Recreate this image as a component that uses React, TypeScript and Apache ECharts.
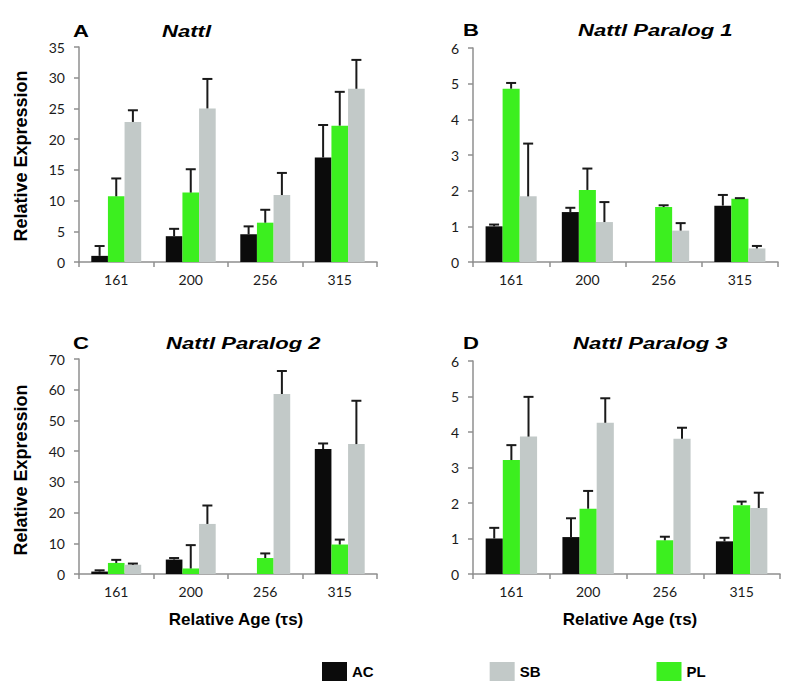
import React, { useEffect, useRef } from 'react';
import * as echarts from 'echarts';

const categories = ['161', '200', '256', '315'];
const legendOrder = ['AC', 'SB', 'PL'];
const seriesOrder = ['AC', 'PL', 'SB'];
const colors: Record<string, string> = { AC: '#0b0b0b', PL: '#3cef1f', SB: '#c2c9c8' };

// Panel A: Nattl
const nattlAC = [1.0, 4.2, 4.5, 17.0];
const nattlACErr = [2.6, 5.4, 5.8, 22.3];
const nattlPL = [10.7, 11.3, 6.4, 22.2];
const nattlPLErr = [13.6, 15.1, 8.5, 27.7];
const nattlSB = [22.8, 25.0, 10.9, 28.2];
const nattlSBErr = [24.7, 29.8, 14.5, 32.9];

// Panel B: Nattl Paralog 1
const p1AC = [1.0, 1.4, null, 1.58];
const p1ACErr = [1.05, 1.52, null, 1.88];
const p1PL = [4.86, 2.02, 1.54, 1.77];
const p1PLErr = [5.02, 2.62, 1.59, 1.79];
const p1SB = [1.84, 1.12, 0.88, 0.38];
const p1SBErr = [3.32, 1.68, 1.09, 0.45];

// Panel C: Nattl Paralog 2
const p2AC = [0.8, 4.7, null, 40.7];
const p2ACErr = [1.2, 5.2, null, 42.5];
const p2PL = [3.6, 1.8, 5.2, 9.6];
const p2PLErr = [4.6, 9.4, 6.7, 11.2];
const p2SB = [3.0, 16.3, 58.6, 42.3];
const p2SBErr = [3.4, 22.3, 66.1, 56.4];

// Panel D: Nattl Paralog 3
const p3AC = [1.0, 1.04, null, 0.92];
const p3ACErr = [1.3, 1.57, null, 1.02];
const p3PL = [3.21, 1.84, 0.95, 1.94];
const p3PLErr = [3.63, 2.34, 1.05, 2.04];
const p3SB = [3.87, 4.26, 3.81, 1.86];
const p3SBErr = [4.99, 4.95, 4.12, 2.29];

const panelLetters = ['A', 'B', 'C', 'D'];
const panelTitles = ['Nattl', 'Nattl Paralog 1', 'Nattl Paralog 2', 'Nattl Paralog 3'];
const yMax = [35, 6, 70, 6];
const yInterval = [5, 1, 10, 1];
const yAxisTitle = 'Relative Expression';
const xAxisTitle = 'Relative Age (τs)';

const panelValues = [
  [nattlAC, nattlPL, nattlSB],
  [p1AC, p1PL, p1SB],
  [p2AC, p2PL, p2SB],
  [p3AC, p3PL, p3SB],
];
const panelErrs = [
  [nattlACErr, nattlPLErr, nattlSBErr],
  [p1ACErr, p1PLErr, p1SBErr],
  [p2ACErr, p2PLErr, p2SBErr],
  [p3ACErr, p3PLErr, p3SBErr],
];

const GAP = 0.33;

export default function App() {
  const ref = useRef<HTMLDivElement>(null);
  useEffect(() => {
    if (!ref.current) return;
    const chart = echarts.init(ref.current, undefined, { renderer: 'svg' });

    const grids = [
      { left: 79, top: 47, width: 298, height: 215 },
      { left: 473, top: 48, width: 305, height: 214 },
      { left: 79, top: 359, width: 298, height: 215 },
      { left: 473, top: 361, width: 307, height: 213 },
    ];
    const axisColor = '#8f8f8f';
    const tickFont = { fontFamily: 'Lato', fontSize: 14, color: '#1a1a1a' };

    const xAxis = grids.map((_, i) => ({
      type: 'category',
      gridIndex: i,
      data: categories,
      axisLine: { lineStyle: { color: axisColor, width: 1.5 } },
      axisTick: { show: true, length: 5, lineStyle: { color: axisColor, width: 1.5 } },
      axisLabel: { ...tickFont, margin: 10 },
    }));
    const yAxis = grids.map((_, i) => ({
      type: 'value',
      gridIndex: i,
      min: 0,
      max: yMax[i],
      interval: yInterval[i],
      axisLine: { show: true, lineStyle: { color: axisColor, width: 1.5 } },
      axisTick: { show: true, length: 5, lineStyle: { color: axisColor, width: 1.5 } },
      splitLine: { show: false },
      axisLabel: { ...tickFont, margin: 14 },
    }));

    const series: any[] = [];
    for (let p = 0; p < 4; p++) {
      seriesOrder.forEach((name, k) => {
        series.push({
          type: 'bar',
          name,
          xAxisIndex: p,
          yAxisIndex: p,
          data: panelValues[p][k],
          barCategoryGap: GAP * 100 + '%',
          barGap: '0%',
          itemStyle: { color: colors[name] },
          z: 2,
        });
      });
      seriesOrder.forEach((name, k) => {
        const data: any[] = [];
        panelValues[p][k].forEach((v, ci) => {
          const e = panelErrs[p][k][ci];
          if (v != null && e != null) data.push([ci, v, e]);
        });
        series.push({
          type: 'custom',
          name: 'err-' + name + '-' + p,
          xAxisIndex: p,
          yAxisIndex: p,
          z: 5,
          encode: { x: 0, y: [1, 2] },
          data,
          renderItem: (params: any, api: any) => {
            const ci = api.value(0);
            const v = api.value(1);
            const e = api.value(2);
            const base = api.coord([ci, v]);
            const top = api.coord([ci, e]);
            const band = api.size([1, 0])[0];
            const bw = (band * (1 - GAP)) / 3;
            const x = base[0] + (k - 1) * bw;
            const st = { stroke: '#1a1a1a', lineWidth: 2 };
            return {
              type: 'group',
              children: [
                { type: 'line', shape: { x1: x, y1: base[1], x2: x, y2: top[1] }, style: st },
                { type: 'line', shape: { x1: x - 5, y1: top[1], x2: x + 5, y2: top[1] }, style: st },
              ],
            };
          },
        });
      });
    }

    const titleFont = 'italic bold 17px "Liberation Sans", Arial, sans-serif';
    const letterFont = 'bold 17px "Liberation Sans", Arial, sans-serif';
    const letterPos = [
      [73, 31], [463, 30], [73, 343], [463, 343],
    ];
    const titlePos = [
      [162, 31], [578, 30], [166, 343], [573, 343],
    ];
    const graphic: any[] = [];
    for (let p = 0; p < 4; p++) {
      graphic.push({
        type: 'text', x: letterPos[p][0], y: letterPos[p][1], scaleX: 1.3,
        style: { text: panelLetters[p], font: letterFont, fill: '#000', textAlign: 'left', textVerticalAlign: 'middle' },
      });
      graphic.push({
        type: 'text', x: titlePos[p][0], y: titlePos[p][1], scaleX: 1.3,
        style: { text: panelTitles[p], font: titleFont, fill: '#000', textAlign: 'left', textVerticalAlign: 'middle' },
      });
    }
    const axisNameFont = 'bold 18px "Liberation Sans", Arial, sans-serif';
    [156, 470].forEach((cy) => {
      graphic.push({
        type: 'text', x: 21, y: cy, rotation: Math.PI / 2,
        style: { text: yAxisTitle, font: axisNameFont, fill: '#000', textAlign: 'center', textVerticalAlign: 'middle' },
      });
    });
    [236, 630].forEach((cx) => {
      graphic.push({
        type: 'text', x: cx, y: 619,
        style: { text: xAxisTitle, font: 'bold 17px "Liberation Sans", Arial, sans-serif', fill: '#000', textAlign: 'center', textVerticalAlign: 'middle' },
      });
    });

    chart.setOption({
      animation: false,
      backgroundColor: '#ffffff',
      grid: grids,
      xAxis,
      yAxis,
      series,
      graphic,
      legend: {
        data: legendOrder,
        left: 322,
        top: 662,
        padding: 0,
        itemWidth: 25,
        itemHeight: 19,
        itemGap: 116,
        icon: 'rect',
        selectedMode: false,
        textStyle: { fontFamily: 'Liberation Sans', fontWeight: 'bold', fontSize: 15, color: '#000' },
      },
    });
    return () => chart.dispose();
  }, []);
  return (
    <div
      ref={ref}
      style={{ position: 'fixed', left: 0, top: 0, width: 794, height: 696, background: '#fff' }}
    />
  );
}
